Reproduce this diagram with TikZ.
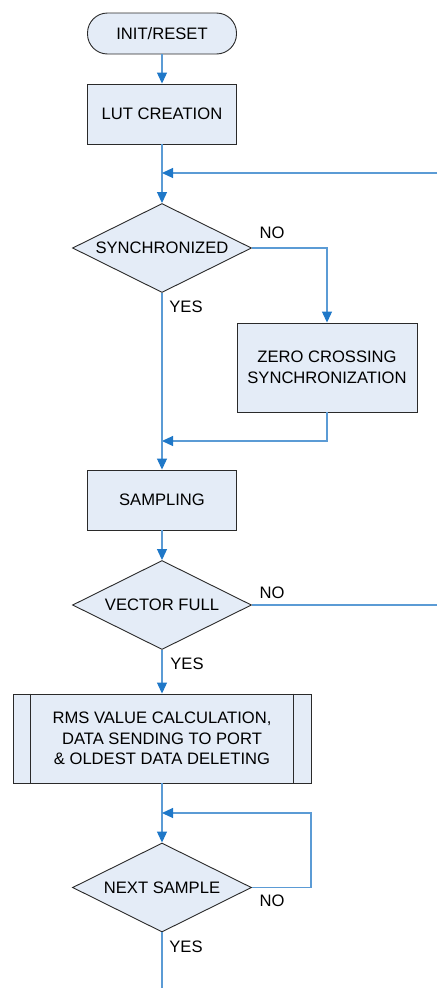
\documentclass[tikz,border=0pt]{standalone}
\usepackage{fontspec}
\setmainfont{Liberation Sans}
\usetikzlibrary{shapes.geometric,arrows.meta,calc}
\definecolor{boxfill}{HTML}{E4ECF7}
\definecolor{boxline}{HTML}{2A2A2A}
\definecolor{wire}{HTML}{5B9BD5}
\definecolor{tipblue}{HTML}{1F78C8}
\tikzset{
  base/.style={draw=boxline, fill=boxfill, line width=0.9pt, inner sep=0pt,
    font=\fontsize{16.6}{20.5}\selectfont, align=center, text=black},
  term/.style={base, rectangle, rounded corners=20pt, minimum width=149pt, minimum height=41pt},
  proc/.style={base, rectangle, minimum width=149pt, minimum height=60pt},
  decide/.style={base, diamond, shape aspect=2, minimum width=179pt, minimum height=89pt},
  wireline/.style={draw=wire, line width=1.1pt},
  flow/.style={wireline, -{Triangle[length=11pt,width=10pt,fill=tipblue,color=tipblue]}},
  lbl/.style={font=\fontsize{16.6}{20}\selectfont, text=black, inner sep=0pt}
}
\begin{document}
\begin{tikzpicture}[x=1pt,y=-1pt]
\useasboundingbox (0,0) rectangle (437,988);

% boxes
\node[term] (init) at (162,33.5) {INIT/RESET};
\node[proc] (lut) at (162,114) {LUT CREATION};
\node[decide] (sync) at (162,248) {SYNCHRONIZED};
\node[proc, minimum width=180pt, minimum height=89pt] (zc) at (327,367.5) {ZERO CROSSING\\SYNCHRONIZATION};
\node[proc] (samp) at (162,500) {SAMPLING};
\node[decide] (vf) at (162,605) {VECTOR FULL};
\node[proc, minimum width=298pt, minimum height=89pt] (rms) at (162,738.5)
  {RMS VALUE CALCULATION,\\DATA SENDING TO PORT\\\& OLDEST DATA DELETING};
\draw[boxline, line width=0.9pt] ($(rms.north west)+(18,0)$) -- ($(rms.south west)+(18,0)$);
\draw[boxline, line width=0.9pt] ($(rms.north east)+(-18,0)$) -- ($(rms.south east)+(-18,0)$);
\node[decide] (ns) at (162,887.5) {NEXT SAMPLE};

% junction points and open ends
\coordinate (j1) at (162,173);
\coordinate (r1) at (437,173);
\coordinate (j2) at (162,441);
\coordinate (r2) at (437,605);
\coordinate (j3) at (162,813);
\coordinate (k3) at (311,887.5);
\coordinate (end) at (162,988);

% connectors
\draw[flow] (init) -- (lut);
\draw[flow] (lut) -- (sync);
\draw[flow] (r1) -- (j1);
\draw[flow] (sync.east) -| (zc.north);
\draw[flow] (zc.south) |- (j2);
\draw[flow] (sync.south) -- (samp.north);
\draw[flow] (samp) -- (vf);
\draw[wireline] (vf.east) -- (r2);
\draw[flow] (vf.south) -- (rms.north);
\draw[flow] (rms.south) -- (ns.north);
\draw[flow] (ns.east) -- (k3) |- (j3);
\draw[wireline] (ns.south) -- (end);

% branch labels
\node[lbl] (no1) at (272,233) {NO};
\node[lbl] (yes1) at (186,307) {YES};
\node[lbl] (no2) at (272,593) {NO};
\node[lbl] (yes2) at (187,664) {YES};
\node[lbl] (no3) at (272,901) {NO};
\node[lbl] (yes3) at (186,947) {YES};
\end{tikzpicture}
\end{document}
